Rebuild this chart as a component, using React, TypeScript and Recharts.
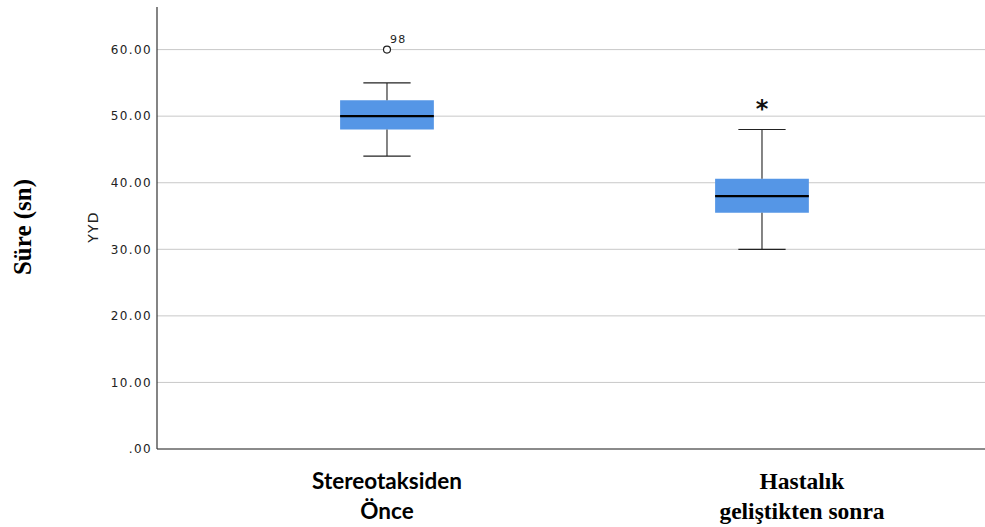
import {
  ComposedChart,
  XAxis,
  YAxis,
  CartesianGrid,
  ReferenceArea,
  ReferenceLine,
  Scatter,
} from 'recharts';

// Groups (x position = index + 1) and their two-line labels
const GROUP_LINES = [
  ['Stereotaksiden', 'Önce'],
  ['Hastalık', 'geliştikten sonra'],
];
const GROUP_POS = [1, 2];

// Box plot summary per group
const WHISKER_LOW = [44, 30];
const Q1 = [48, 35.5];
const MEDIAN = [50, 38];
const Q3 = [52.4, 40.6];
const WHISKER_HIGH = [55, 48];

// Outliers (circle) and extremes (asterisk)
const OUTLIERS = [{ x: 1, y: 60, id: '98' }];
const EXTREMES = [{ x: 2, y: 52 }];

const Y_TICKS = [0, 10, 20, 30, 40, 50, 60];

const BOX_HALF = 0.125;
const CAP_HALF = 0.063;
const BOX_COLOR = '#5596e6';
const GRID_COLOR = '#c8c8c8';

function CategoryTick(props: any) {
  const { x, y, payload } = props;
  const idx = GROUP_POS.indexOf(payload.value);
  if (idx < 0) return null;
  const lines = GROUP_LINES[idx];
  // first label sans bold, second label serif bold (as in the source figure)
  const serif = idx === 1;
  return (
    <g>
      {lines.map((line, i) => (
        <text
          key={line}
          x={serif ? x + 40 : x}
          y={y + 32 + i * 30}
          textAnchor="middle"
          fill="#000"
          fontFamily={serif ? '"Liberation Serif", serif' : 'Lato, "Open Sans", sans-serif'}
          fontWeight="bold"
          fontSize={serif ? 23.5 : 22.5}
        >
          {line}
        </text>
      ))}
    </g>
  );
}

function OutlierShape(props: any) {
  const { cx, cy, payload } = props;
  return (
    <g>
      <circle cx={cx} cy={cy} r={3.5} fill="#fff" stroke="#222" strokeWidth={1.2} />
      <text
        x={cx + 3}
        y={cy - 7}
        fontFamily='"DejaVu Sans", sans-serif'
        fontSize={11}
        letterSpacing={1.3}
        fill="#222"
      >
        {payload.id}
      </text>
    </g>
  );
}

function ExtremeShape(props: any) {
  const { cx, cy } = props;
  return (
    <text
      x={cx}
      y={cy + 14}
      textAnchor="middle"
      fontFamily='"DejaVu Sans", sans-serif'
      fontWeight="bold"
      fontSize={24}
      fill="#111"
    >
      *
    </text>
  );
}

function AxisTitles(props: any) {
  const { viewBox } = props;
  const cy = viewBox.y + viewBox.height / 2 - 1;
  return (
    <g>
      <text
        x={0}
        y={0}
        transform={`translate(31, ${cy}) rotate(-90)`}
        textAnchor="middle"
        fontFamily='"Liberation Serif", serif'
        fontWeight="bold"
        fontSize={25}
        fill="#000"
      >
        Süre (sn)
      </text>
      <text
        x={0}
        y={0}
        transform={`translate(98, ${cy}) rotate(-90)`}
        textAnchor="middle"
        fontFamily='"DejaVu Sans", sans-serif'
        fontSize={14}
        letterSpacing={1.2}
        fill="#222"
      >
        YYD
      </text>
    </g>
  );
}

export default function App() {
  return (
    <div style={{ position: 'absolute', left: 0, top: 0, width: 985, height: 527, background: '#fff' }}>
      <ComposedChart
        width={985}
        height={527}
        margin={{ top: 7, right: 0, left: 0, bottom: 0 }}
      >
        <CartesianGrid
          horizontal
          vertical={false}
          horizontalValues={Y_TICKS}
          stroke={GRID_COLOR}
          strokeWidth={1}
        />
        <XAxis
          type="number"
          dataKey="x"
          domain={[0.3867, 2.5947]}
          ticks={GROUP_POS}
          allowDataOverflow
          tickLine={false}
          axisLine={{ stroke: '#333', strokeWidth: 1.2 }}
          tick={<CategoryTick />}
          height={78}
        />
        <YAxis
          type="number"
          dataKey="y"
          domain={[0, 66.4]}
          ticks={Y_TICKS}
          allowDataOverflow
          width={157}
          tickLine={false}
          tickSize={2}
          tickMargin={3}
          axisLine={{ stroke: '#333', strokeWidth: 1.2 }}
          tickFormatter={(v: number) => (v === 0 ? '.00' : v.toFixed(2))}
          tick={{ fill: '#222', fontSize: 12, fontFamily: '"DejaVu Sans", sans-serif', letterSpacing: 1.4 }}
          label={<AxisTitles />}
        />
        {GROUP_POS.map((g, i) => (
          <ReferenceLine
            key={`wl-${g}`}
            segment={[{ x: g, y: WHISKER_LOW[i] }, { x: g, y: Q1[i] }]}
            stroke="#333"
            strokeWidth={1.2}
          />
        ))}
        {GROUP_POS.map((g, i) => (
          <ReferenceLine
            key={`wh-${g}`}
            segment={[{ x: g, y: Q3[i] }, { x: g, y: WHISKER_HIGH[i] }]}
            stroke="#333"
            strokeWidth={1.2}
          />
        ))}
        {GROUP_POS.map((g, i) => (
          <ReferenceLine
            key={`cl-${g}`}
            segment={[{ x: g - CAP_HALF, y: WHISKER_LOW[i] }, { x: g + CAP_HALF, y: WHISKER_LOW[i] }]}
            stroke="#222"
            strokeWidth={1.2}
          />
        ))}
        {GROUP_POS.map((g, i) => (
          <ReferenceLine
            key={`ch-${g}`}
            segment={[{ x: g - CAP_HALF, y: WHISKER_HIGH[i] }, { x: g + CAP_HALF, y: WHISKER_HIGH[i] }]}
            stroke="#222"
            strokeWidth={1.2}
          />
        ))}
        {GROUP_POS.map((g, i) => (
          <ReferenceArea
            key={`box-${g}`}
            x1={g - BOX_HALF}
            x2={g + BOX_HALF}
            y1={Q1[i]}
            y2={Q3[i]}
            fill={BOX_COLOR}
            fillOpacity={1}
            stroke="none"
          />
        ))}
        {GROUP_POS.map((g, i) => (
          <ReferenceLine
            key={`med-${g}`}
            segment={[{ x: g - BOX_HALF, y: MEDIAN[i] }, { x: g + BOX_HALF, y: MEDIAN[i] }]}
            stroke="#000"
            strokeWidth={2.2}
          />
        ))}
        <Scatter data={OUTLIERS} dataKey="y" shape={<OutlierShape />} isAnimationActive={false} />
        <Scatter data={EXTREMES} dataKey="y" shape={<ExtremeShape />} isAnimationActive={false} />
      </ComposedChart>
    </div>
  );
}
